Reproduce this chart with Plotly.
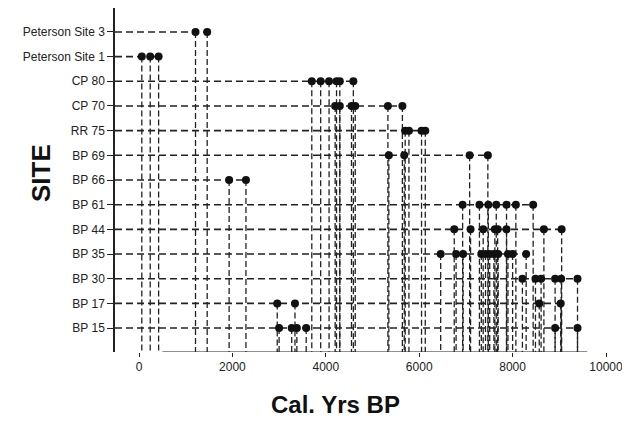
import plotly.graph_objects as go

sites = ["Peterson Site 3", "Peterson Site 1", "CP 80", "CP 70", "RR 75", "BP 69",
         "BP 66", "BP 61", "BP 44", "BP 35", "BP 30", "BP 17", "BP 15"]

peterson_site_3 = [1210, 1460]
peterson_site_1 = [60, 240, 420]
cp_80 = [3700, 3890, 4070, 4230, 4300, 4590]
cp_70 = [4200, 4300, 4550, 4630, 5330, 5640]
rr_75 = [5700, 5780, 6050, 6130]
bp_69 = [5350, 5680, 7080, 7470]
bp_66 = [1930, 2290]
bp_61 = [6930, 7290, 7480, 7650, 7870, 8070, 8440]
bp_44 = [6750, 7100, 7370, 7620, 7680, 7870, 8670, 9050]
bp_35 = [6460, 6790, 6940, 7330, 7420, 7510, 7600, 7690, 7900, 8000, 8290]
bp_30 = [8210, 8490, 8610, 8910, 9040, 9390]
bp_17 = [2960, 3340, 8570, 9030]
bp_15 = [3000, 3270, 3380, 3580, 8910, 9390]

site_values = [peterson_site_3, peterson_site_1, cp_80, cp_70, rr_75, bp_69,
               bp_66, bp_61, bp_44, bp_35, bp_30, bp_17, bp_15]

x_ticks = [0, 2000, 4000, 6000, 8000, 10000]
x_title = "Cal. Yrs BP"
y_title = "SITE"

X_MIN, X_MAX = -514, 10000
Y_TOP, Y_BOT = -0.97, len(sites) - 1 + 0.97

fig = go.Figure()

# horizontal dashed lines from the y axis to the last point of each row
hx, hy = [], []
for i, vals in enumerate(site_values):
    hx += [X_MIN, max(vals), None]
    hy += [i, i, None]
fig.add_trace(go.Scatter(x=hx, y=hy, mode="lines",
                         line=dict(color="#222", width=1.6, dash="7px,4px"),
                         hoverinfo="skip", showlegend=False))

# vertical drop lines from each point down to the x axis
vx, vy = [], []
for i, vals in enumerate(site_values):
    for v in vals:
        vx += [v, v, None]
        vy += [i, Y_BOT, None]
fig.add_trace(go.Scatter(x=vx, y=vy, mode="lines",
                         line=dict(color="#222", width=1.3, dash="6px,3px"),
                         hoverinfo="skip", showlegend=False))

# points
px, py = [], []
for i, vals in enumerate(site_values):
    px += vals
    py += [i] * len(vals)
fig.add_trace(go.Scatter(x=px, y=py, mode="markers",
                         marker=dict(color="#111", size=8, symbol="circle"),
                         showlegend=False))

# partial x baseline like the original
fig.add_shape(type="line", xref="x", yref="y", x0=500, x1=9600, y0=Y_BOT, y1=Y_BOT,
              line=dict(color="#222", width=1.2))

fig.add_annotation(text="<b>" + x_title + "</b>", xref="paper", yref="paper", x=0.45, y=-0.154,
                   xanchor="center", yanchor="middle", showarrow=False,
                   font=dict(family="Liberation Sans, Arial", size=24, color="#111"))
fig.add_annotation(text="<b>" + y_title + "</b>", xref="paper", yref="paper", x=-0.151, y=0.52,
                   xanchor="center", yanchor="middle", showarrow=False, textangle=-90,
                   font=dict(family="Liberation Sans, Arial", size=26, color="#111"))

fig.update_layout(
    width=630, height=424,
    margin=dict(l=107, r=32, t=0, b=80, autoexpand=False),
    paper_bgcolor="white", plot_bgcolor="white",
    font=dict(family="Liberation Sans, Arial", size=12, color="#222"),
    xaxis=dict(range=[X_MIN, X_MAX], tickvals=x_ticks, ticktext=[str(t) for t in x_ticks],
               showgrid=False, zeroline=False, showline=False, automargin=False,
               ticks="outside", ticklen=4, tickcolor="#222",
               tickfont=dict(size=12)),
    yaxis=dict(range=[Y_BOT, Y_TOP], tickvals=list(range(len(sites))), ticktext=sites,
               showgrid=False, zeroline=False, showline=True, linecolor="#222", linewidth=1.5,
               automargin=False,
               ticks="outside", ticklen=6, tickcolor="#222",
               tickfont=dict(size=12)),
)

fig.write_html("out.html")
